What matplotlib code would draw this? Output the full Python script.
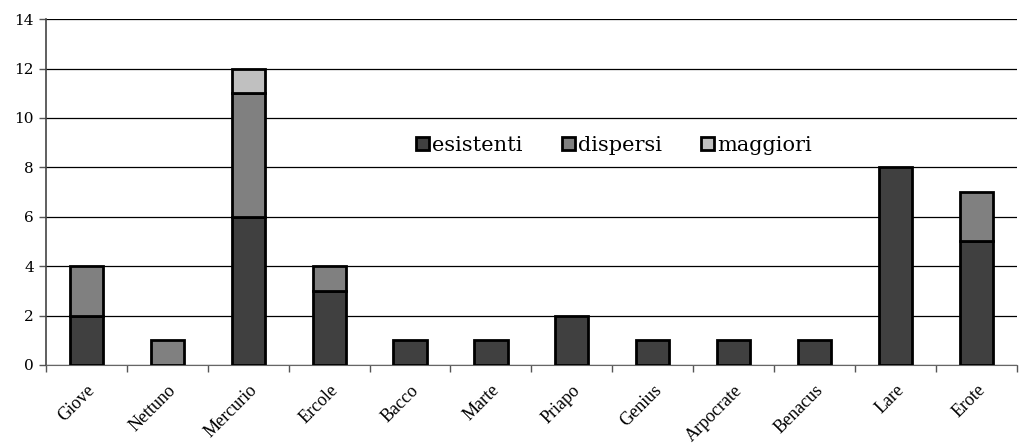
import numpy as np
import matplotlib.pyplot as plt

categorie = ['Giove', 'Nettuno', 'Mercurio', 'Ercole', 'Bacco', 'Marte',
             'Priapo', 'Genius', 'Arpocrate', 'Benacus', 'Lare', 'Erote']
esistenti = [2, 0, 6, 3, 1, 1, 2, 1, 1, 1, 8, 5]
dispersi = [2, 1, 5, 1, 0, 0, 0, 0, 0, 0, 0, 2]
maggiori = [0, 0, 1, 0, 0, 0, 0, 0, 0, 0, 0, 0]

plt.rcParams['font.family'] = ['DejaVu Serif']

fig = plt.figure(figsize=(10.19, 4.44), dpi=100)
ax = fig.add_axes([0.045, 0.178, 0.953, 0.779])

x = np.arange(len(categorie))
w = 0.41
e = np.array(esistenti)
d = np.array(dispersi)
m = np.array(maggiori)

def barre(vals, bottom, colore, nome):
    vals = np.array(vals)
    mask = vals > 0
    ax.bar(x[mask], vals[mask], w, bottom=bottom[mask], color=colore,
           edgecolor='black', linewidth=2, label=nome, zorder=3)

barre(e, np.zeros(len(x)), '#404040', 'esistenti')
barre(d, e, '#808080', 'dispersi')
barre(m, e + d, '#c0c0c0', 'maggiori')

ax.set_xlim(-0.5, len(x) - 0.5)
ax.set_ylim(0, 14)
ax.set_yticks(range(0, 15, 2))
ax.yaxis.grid(True, color='black', linewidth=0.9, zorder=0)
ax.set_axisbelow(True)

ax.set_xticks(np.arange(-0.5, len(x), 1.0))
ax.set_xticklabels([])
ax.set_xticks(x, minor=True)
ax.set_xticklabels(categorie, minor=True, rotation=45, ha='right',
                   rotation_mode='anchor', fontsize=13,
                   family='Liberation Serif')
ax.tick_params(axis='x', which='minor', length=0, pad=12)
ax.tick_params(axis='x', which='major', length=5, width=1, color='#555555')
ax.tick_params(axis='y', length=5, width=1, color='#555555', labelsize=11)

for s in ['top', 'right']:
    ax.spines[s].set_visible(False)
ax.spines['left'].set_color('#444444')
ax.spines['bottom'].set_color('#666666')
ax.spines['left'].set_linewidth(1.2)

ax.legend(loc='center', bbox_to_anchor=(0.585, 0.635), ncol=3, frameon=False,
          fontsize=15, handlelength=0.6, handleheight=0.6, handletextpad=0.15,
          columnspacing=1.9, borderaxespad=0)

fig.savefig('out.png', dpi=100)
